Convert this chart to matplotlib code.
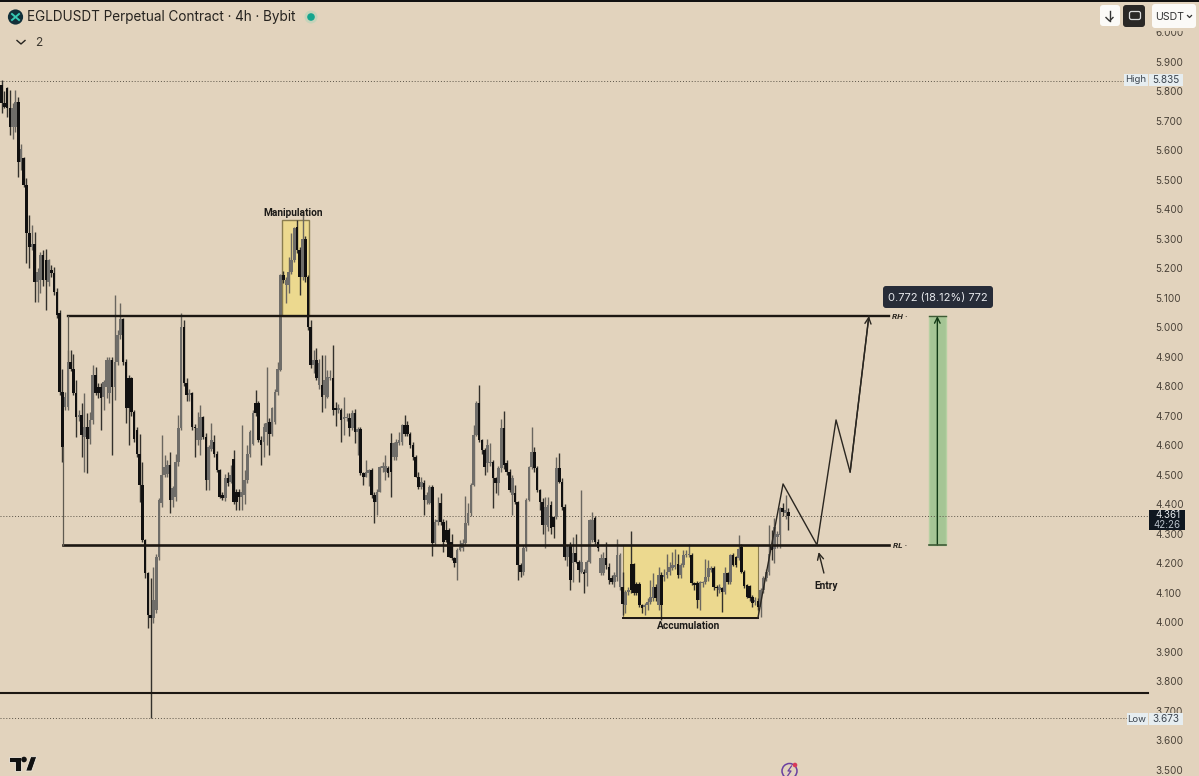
import matplotlib
matplotlib.use("Agg")
import matplotlib.pyplot as plt
from matplotlib.patches import Rectangle, FancyBboxPatch, Circle, Polygon
import numpy as np

# candle data, ten candles per row
candle_dir = ("DDDDUUDUDD" "DUDUUDDUDD" "DDDUUDDDUD" "UDUUDDDUUU" "DUUUDDDDDD"
              "DDDDDUUUUU" "UDUUUUDDUD" "DUUDDUUDDD" "DUDUDDDUUU" "UUDDDUUDUU"
              "UUDUUUUDDU" "DDDUDUDUUU" "DDUDUUDUDU" "DDUUDDUUUU" "DDUUUUDDDD"
              "DDUDUUDUUD" "DDDDDUUUUU" "UUUDDDUUDD" "UUDDDUDDDU" "UUUDDDDUUD"
              "DUDDDUDUDD" "UDUUUDDUUD" "DDUUUDUUDD" "DDDUUUUDUD" "UUUUUDUUUU"
              "DDDUUUUUDD" "UDUDUDDUDD" "DDDUDUUUUD" "UUUDUD")

body_top = [
    5.820, 5.758, 5.809, 5.741, 5.741, 5.764, 5.764, 5.605, 5.572, 5.481,
    5.317, 5.283, 5.283, 5.187, 5.244, 5.244, 5.227, 5.227, 5.193, 5.182,
    5.120, 5.046, 4.780, 4.763, 4.882, 4.882, 4.859, 4.775, 4.701, 4.701,
    4.662, 4.662, 4.684, 4.837, 4.837, 4.797, 4.797, 4.814, 4.888, 4.888,
    4.888, 4.882, 4.972, 5.026, 5.026, 4.882, 4.826, 4.826, 4.713, 4.650,
    4.571, 4.464, 4.277, 4.165, 4.023, 4.074, 4.221, 4.413, 4.498, 4.526,
    4.532, 4.532, 4.453, 4.543, 4.656, 5.001, 5.001, 4.809, 4.777, 4.777,
    4.662, 4.656, 4.696, 4.696, 4.628, 4.594, 4.616, 4.611, 4.571, 4.515,
    4.430, 4.487, 4.487, 4.498, 4.552, 4.441, 4.441, 4.441, 4.481, 4.571,
    4.645, 4.707, 4.741, 4.741, 4.617, 4.662, 4.673, 4.679, 4.724, 4.780,
    4.856, 5.176, 5.176, 5.159, 5.187, 5.227, 5.334, 5.340, 5.261, 5.300,
    5.300, 5.168, 5.001, 4.888, 4.888, 4.877, 4.803, 4.820, 4.832, 4.832,
    4.826, 4.724, 4.724, 4.719, 4.696, 4.696, 4.690, 4.707, 4.707, 4.653,
    4.653, 4.504, 4.510, 4.515, 4.515, 4.430, 4.442, 4.526, 4.529, 4.529,
    4.521, 4.606, 4.606, 4.611, 4.617, 4.668, 4.668, 4.668, 4.639, 4.600,
    4.560, 4.493, 4.476, 4.470, 4.430, 4.459, 4.459, 4.340, 4.346, 4.402,
    4.340, 4.312, 4.312, 4.272, 4.216, 4.244, 4.255, 4.267, 4.334, 4.368,
    4.464, 4.634, 4.741, 4.741, 4.617, 4.583, 4.600, 4.543, 4.543, 4.487,
    4.521, 4.656, 4.656, 4.538, 4.510, 4.487, 4.436, 4.408, 4.193, 4.250,
    4.414, 4.526, 4.577, 4.577, 4.521, 4.447, 4.408, 4.391, 4.397, 4.397,
    4.357, 4.521, 4.521, 4.476, 4.391, 4.255, 4.261, 4.233, 4.233, 4.204,
    4.204, 4.170, 4.204, 4.346, 4.346, 4.351, 4.272, 4.216, 4.216, 4.216,
    4.187, 4.148, 4.159, 4.227, 4.227, 4.119, 4.103, 4.110, 4.196, 4.196,
    4.129, 4.129, 4.057, 4.057, 4.069, 4.086, 4.117, 4.117, 4.159, 4.161,
    4.159, 4.170, 4.187, 4.193, 4.193, 4.196, 4.193, 4.227, 4.232, 4.232,
    4.227, 4.131, 4.133, 4.136, 4.136, 4.151, 4.182, 4.182, 4.182, 4.119,
    4.119, 4.114, 4.165, 4.165, 4.227, 4.227, 4.219, 4.249, 4.253, 4.170,
    4.125, 4.122, 4.086, 4.074, 4.072, 4.108, 4.148, 4.170, 4.232, 4.261,
    4.323, 4.300, 4.385, 4.387, 4.379, 4.374,
]
body_bottom = [
    5.758, 5.747, 5.741, 5.679, 5.679, 5.679, 5.560, 5.560, 5.481, 5.317,
    5.272, 5.272, 5.153, 5.153, 5.159, 5.159, 5.159, 5.153, 5.182, 5.120,
    5.040, 4.780, 4.594, 4.730, 4.730, 4.859, 4.775, 4.696, 4.696, 4.633,
    4.628, 4.622, 4.622, 4.684, 4.775, 4.775, 4.758, 4.763, 4.797, 4.775,
    4.797, 4.797, 4.882, 4.972, 4.882, 4.724, 4.724, 4.713, 4.622, 4.571,
    4.464, 4.277, 4.165, 4.023, 4.012, 4.012, 4.040, 4.221, 4.402, 4.498,
    4.503, 4.413, 4.413, 4.424, 4.543, 4.656, 4.809, 4.769, 4.769, 4.662,
    4.656, 4.616, 4.616, 4.628, 4.481, 4.481, 4.588, 4.571, 4.515, 4.424,
    4.419, 4.419, 4.470, 4.475, 4.407, 4.407, 4.424, 4.424, 4.430, 4.481,
    4.571, 4.605, 4.707, 4.617, 4.600, 4.611, 4.645, 4.639, 4.639, 4.679,
    4.780, 4.854, 5.159, 5.142, 5.142, 5.187, 5.227, 5.261, 5.168, 5.170,
    5.170, 5.001, 4.871, 4.871, 4.826, 4.803, 4.764, 4.769, 4.764, 4.826,
    4.719, 4.719, 4.719, 4.685, 4.687, 4.690, 4.656, 4.656, 4.645, 4.645,
    4.504, 4.493, 4.493, 4.504, 4.430, 4.408, 4.408, 4.442, 4.521, 4.510,
    4.504, 4.510, 4.560, 4.560, 4.606, 4.611, 4.639, 4.639, 4.600, 4.560,
    4.493, 4.459, 4.459, 4.413, 4.413, 4.402, 4.267, 4.267, 4.340, 4.340,
    4.272, 4.278, 4.221, 4.216, 4.199, 4.199, 4.244, 4.250, 4.267, 4.334,
    4.368, 4.464, 4.634, 4.617, 4.583, 4.526, 4.538, 4.538, 4.487, 4.470,
    4.470, 4.521, 4.532, 4.510, 4.447, 4.430, 4.408, 4.193, 4.170, 4.170,
    4.250, 4.414, 4.526, 4.521, 4.447, 4.408, 4.329, 4.329, 4.323, 4.317,
    4.323, 4.357, 4.476, 4.391, 4.221, 4.221, 4.142, 4.199, 4.204, 4.176,
    4.170, 4.163, 4.165, 4.204, 4.278, 4.272, 4.250, 4.165, 4.165, 4.193,
    4.142, 4.136, 4.136, 4.153, 4.119, 4.060, 4.057, 4.103, 4.110, 4.099,
    4.097, 4.057, 4.046, 4.052, 4.057, 4.069, 4.080, 4.080, 4.057, 4.057,
    4.153, 4.159, 4.170, 4.182, 4.187, 4.159, 4.159, 4.193, 4.226, 4.227,
    4.131, 4.125, 4.074, 4.074, 4.131, 4.136, 4.151, 4.176, 4.117, 4.114,
    4.108, 4.103, 4.103, 4.136, 4.136, 4.193, 4.193, 4.216, 4.170, 4.122,
    4.086, 4.080, 4.063, 4.069, 4.052, 4.052, 4.108, 4.148, 4.170, 4.244,
    4.249, 4.289, 4.295, 4.374, 4.368, 4.361,
]
wick_high = [
    5.837, 5.800, 5.812, 5.803, 5.760, 5.803, 5.780, 5.620, 5.575, 5.504,
    5.379, 5.345, 5.323, 5.200, 5.255, 5.260, 5.266, 5.230, 5.210, 5.204,
    5.131, 5.057, 4.859, 4.780, 4.922, 4.922, 4.910, 4.820, 4.720, 4.741,
    4.775, 4.707, 4.713, 4.871, 4.865, 4.810, 4.809, 4.820, 4.900, 4.900,
    4.900, 5.108, 4.989, 5.080, 5.030, 4.890, 4.837, 4.830, 4.720, 4.660,
    4.639, 4.543, 4.280, 4.170, 4.148, 4.187, 4.230, 4.420, 4.633, 4.566,
    4.550, 4.577, 4.460, 4.571, 4.701, 5.048, 5.023, 4.826, 4.790, 4.780,
    4.670, 4.713, 4.735, 4.700, 4.640, 4.600, 4.673, 4.633, 4.580, 4.520,
    4.440, 4.503, 4.510, 4.532, 4.583, 4.450, 4.450, 4.667, 4.515, 4.600,
    4.650, 4.720, 4.786, 4.750, 4.630, 4.673, 4.865, 4.690, 4.730, 4.790,
    4.882, 5.180, 5.190, 5.170, 5.238, 5.317, 5.340, 5.362, 5.270, 5.385,
    5.310, 5.175, 5.024, 4.922, 4.928, 4.890, 4.905, 4.905, 4.854, 4.854,
    4.939, 4.747, 4.740, 4.725, 4.764, 4.710, 4.707, 4.719, 4.721, 4.660,
    4.660, 4.510, 4.549, 4.520, 4.521, 4.440, 4.450, 4.530, 4.543, 4.566,
    4.530, 4.642, 4.610, 4.620, 4.645, 4.670, 4.702, 4.680, 4.645, 4.611,
    4.565, 4.510, 4.490, 4.480, 4.440, 4.465, 4.465, 4.350, 4.425, 4.438,
    4.350, 4.346, 4.320, 4.300, 4.220, 4.250, 4.278, 4.280, 4.427, 4.402,
    4.470, 4.668, 4.750, 4.803, 4.620, 4.590, 4.620, 4.606, 4.550, 4.490,
    4.530, 4.687, 4.715, 4.550, 4.520, 4.500, 4.464, 4.410, 4.200, 4.260,
    4.420, 4.530, 4.662, 4.594, 4.530, 4.450, 4.420, 4.425, 4.425, 4.410,
    4.360, 4.560, 4.574, 4.487, 4.400, 4.260, 4.270, 4.289, 4.300, 4.210,
    4.447, 4.180, 4.210, 4.350, 4.374, 4.360, 4.280, 4.230, 4.238, 4.272,
    4.200, 4.160, 4.170, 4.280, 4.235, 4.170, 4.110, 4.120, 4.308, 4.200,
    4.135, 4.135, 4.060, 4.065, 4.080, 4.142, 4.165, 4.130, 4.187, 4.170,
    4.180, 4.232, 4.204, 4.238, 4.249, 4.232, 4.200, 4.244, 4.245, 4.266,
    4.235, 4.135, 4.140, 4.140, 4.140, 4.215, 4.210, 4.190, 4.190, 4.125,
    4.130, 4.120, 4.187, 4.170, 4.230, 4.235, 4.225, 4.295, 4.266, 4.175,
    4.130, 4.125, 4.090, 4.085, 4.080, 4.115, 4.155, 4.180, 4.329, 4.312,
    4.351, 4.310, 4.390, 4.402, 4.430, 4.385,
]
wick_low = [
    5.724, 5.741, 5.713, 5.651, 5.639, 5.660, 5.509, 5.532, 5.475, 5.216,
    5.199, 5.260, 5.086, 5.086, 5.114, 5.140, 5.057, 5.140, 5.170, 5.110,
    5.030, 4.770, 4.543, 4.720, 4.720, 4.850, 4.770, 4.628, 4.680, 4.560,
    4.509, 4.506, 4.605, 4.670, 4.770, 4.760, 4.650, 4.718, 4.760, 4.741,
    4.566, 4.752, 4.870, 4.960, 4.870, 4.673, 4.600, 4.700, 4.610, 4.560,
    4.407, 4.270, 4.150, 3.978, 3.673, 3.995, 4.030, 4.210, 4.390, 4.490,
    4.490, 4.370, 4.390, 4.410, 4.530, 4.650, 4.800, 4.750, 4.750, 4.650,
    4.560, 4.600, 4.566, 4.620, 4.447, 4.447, 4.580, 4.560, 4.510, 4.420,
    4.413, 4.410, 4.460, 4.470, 4.400, 4.379, 4.379, 4.379, 4.400, 4.470,
    4.560, 4.600, 4.700, 4.610, 4.532, 4.560, 4.600, 4.566, 4.630, 4.670,
    4.770, 4.850, 5.150, 5.080, 5.114, 5.180, 5.220, 5.250, 5.108, 5.160,
    5.153, 4.990, 4.860, 4.843, 4.820, 4.790, 4.713, 4.724, 4.760, 4.820,
    4.702, 4.664, 4.710, 4.611, 4.634, 4.680, 4.630, 4.650, 4.606, 4.566,
    4.500, 4.464, 4.490, 4.460, 4.420, 4.337, 4.363, 4.440, 4.510, 4.481,
    4.490, 4.425, 4.550, 4.550, 4.600, 4.600, 4.630, 4.630, 4.590, 4.550,
    4.490, 4.450, 4.450, 4.363, 4.400, 4.400, 4.224, 4.260, 4.330, 4.330,
    4.238, 4.270, 4.220, 4.210, 4.187, 4.142, 4.240, 4.240, 4.260, 4.330,
    4.360, 4.460, 4.630, 4.610, 4.570, 4.500, 4.510, 4.530, 4.385, 4.436,
    4.430, 4.510, 4.520, 4.500, 4.440, 4.363, 4.400, 4.142, 4.153, 4.160,
    4.240, 4.410, 4.520, 4.510, 4.440, 4.380, 4.300, 4.250, 4.310, 4.300,
    4.284, 4.350, 4.470, 4.380, 4.210, 4.190, 4.108, 4.137, 4.200, 4.137,
    4.165, 4.099, 4.122, 4.200, 4.270, 4.265, 4.240, 4.160, 4.160, 4.180,
    4.130, 4.130, 4.120, 4.140, 4.110, 4.023, 4.029, 4.090, 4.100, 4.090,
    4.090, 4.050, 4.029, 4.023, 4.040, 4.060, 4.070, 4.070, 4.040, 4.007,
    4.140, 4.150, 4.160, 4.175, 4.180, 4.150, 4.150, 4.185, 4.220, 4.220,
    4.125, 4.110, 4.046, 4.040, 4.120, 4.130, 4.140, 4.170, 4.110, 4.088,
    4.100, 4.035, 4.095, 4.130, 4.130, 4.190, 4.185, 4.210, 4.165, 4.115,
    4.080, 4.070, 4.050, 4.057, 4.040, 4.018, 4.100, 4.140, 4.160, 4.210,
    4.200, 4.250, 4.250, 4.360, 4.350, 4.312,
]

price_ticks = [3.5, 3.6, 3.7, 3.8, 3.9, 4.0, 4.1, 4.2, 4.3, 4.4, 4.5, 4.6, 4.7,
               4.8, 4.9, 5.0, 5.1, 5.2, 5.3, 5.4, 5.5, 5.6, 5.7, 5.8, 5.9, 6.0]

range_high = 5.037
range_low = 4.261
support_level = 3.759
high_price = 5.835
low_price = 3.673
last_price = 4.361

# projected move drawn on the chart (candle index, price)
path_x = [274.0, 283.1, 295.4, 302.3, 307.4, 314.2]
path_price = [4.014, 4.468, 4.261, 4.685, 4.508, 5.037]

BG = "#e2d3bd"
INK = "#4a4238"
YELLOW = "#ecd98f"

plt.rcParams["font.family"] = ["Inter", "Roboto", "DejaVu Sans"]

fig = plt.figure(figsize=(11.99, 7.76), dpi=100, facecolor=BG)
ax = fig.add_axes([0, 0, 1, 1], facecolor=BG)
ax.set_xlim(-0.6, 433.8)
ax.set_ylim(3.478, 6.1085)
for s in ax.spines.values():
    s.set_visible(False)
ax.set_xticks([])
ax.yaxis.tick_right()
ax.set_yticks(price_ticks)
ax.set_yticklabels(["%.3f" % p for p in price_ticks])
ax.tick_params(axis="y", length=0, pad=-31.5, labelsize=7.2, labelcolor=INK)

right_end = 415.5

# shaded boxes under the candles
ax.add_patch(Rectangle((101.4, range_high), 10.0, 5.363 - range_high, fc=YELLOW,
                       ec="#8a7d50", lw=1.0, zorder=1))
ax.add_patch(Rectangle((225.1, 4.014), 48.9, range_low - 4.014, fc=YELLOW,
                       ec="#8a7d50", lw=0.8, zorder=1))
ax.add_patch(Rectangle((336.0, range_low), 6.2, range_high - range_low, fc="#a5c595",
                       ec="#b5d0a2", lw=1.0, zorder=1))

# candles
x = np.arange(len(candle_dir))
top = np.array(body_top)
bot = np.array(body_bottom)
is_up = np.array([d == "U" for d in candle_dir])
wick_cols = ["#6a665f" if u else "#34312c" for u in is_up]
ax.vlines(x, wick_low, wick_high, colors=wick_cols, lw=1.0, zorder=3)
ax.bar(x[is_up], top[is_up] - bot[is_up], bottom=bot[is_up], width=0.95,
       color="#6f6d69", zorder=4)
ax.bar(x[~is_up], top[~is_up] - bot[~is_up], bottom=bot[~is_up], width=0.95,
       color="#111010", zorder=5)

# dotted price lines
for p in [high_price, low_price, last_price]:
    ax.plot([-0.6, right_end], [p, p], color="#5b5448", lw=0.7, ls=(0, (1, 2)), zorder=2)

# range lines
ax.plot([24.0, 321.6], [range_high, range_high], color="#1c1712", lw=1.7, zorder=6)
ax.plot([22.2, 321.6], [range_low, range_low], color="#1c1712", lw=1.9, zorder=6)
ax.plot([-0.6, right_end], [support_level, support_level], color="#1c1712", lw=1.5, zorder=6)
ax.plot([24.0, 24.0], [range_high, 4.885], color="#5f5a50", lw=0.9, zorder=6)
ax.plot([22.2, 22.2], [4.594, range_low], color="#5f5a50", lw=0.9, zorder=6)
ax.plot([225.1, 274.0], [4.014, 4.014], color="#1c1712", lw=1.4, zorder=6)

# projection
ax.plot(path_x, path_price, color="#2a2620", lw=1.0, zorder=7)
ax.annotate("", xy=(path_x[-1], path_price[-1]), xytext=(path_x[-2], path_price[-2]),
            arrowprops=dict(arrowstyle="->", color="#2a2620", lw=1.0, shrinkA=0, shrinkB=0,
                            mutation_scale=11), zorder=7)
ax.annotate("", xy=(296.0, 4.237), xytext=(297.9, 4.166),
            arrowprops=dict(arrowstyle="->", color="#2a2620", lw=1.0, shrinkA=0, shrinkB=0,
                            mutation_scale=11), zorder=7)
ax.annotate("", xy=(339.0, range_high), xytext=(339.0, range_low),
            arrowprops=dict(arrowstyle="->", color="#123a16", lw=1.0, shrinkA=0, shrinkB=0,
                            mutation_scale=10), zorder=7)
ax.plot([336.0, 342.2], [range_high, range_high], color="#3e5a35", lw=1.0, zorder=7)
ax.plot([336.0, 342.2], [range_low, range_low], color="#3e5a35", lw=1.2, zorder=7)

# labels on the chart
lab = dict(family="Roboto", fontweight="bold", color="#1c1a18", ha="center", va="center",
           fontsize=7.3, zorder=8)
ax.text(105.6, 5.386, "Manipulation", **lab)
ax.text(249.0, 3.987, "Accumulation", **lab)
ax.text(298.8, 4.122, "Entry", **lab)
ax.text(325.5, range_high, "RH ·", family="Roboto", fontweight="bold", style="italic",
        color="#2a2620", ha="center", va="center", fontsize=6.0, zorder=8)
ax.text(325.5, range_low, "RL ·", family="Roboto", fontweight="bold", style="italic",
        color="#2a2620", ha="center", va="center", fontsize=6.0, zorder=8)

# screen furniture, in pixels
ui = fig.add_axes([0, 0, 1, 1], facecolor="none")
ui.set_xlim(0, 1199)
ui.set_ylim(776, 0)
ui.axis("off")

ui.add_patch(Rectangle((0, 0), 1199, 2, fc="#111111", ec="none"))
ui.add_patch(Circle((15.5, 17), 7.6, fc="#12303a", ec="none"))
ui.plot([12, 19], [14, 20], color="#37c9b4", lw=1.4)
ui.plot([12, 19], [20, 14], color="#37c9b4", lw=1.4)
ui.text(27, 17, "EGLDUSDT Perpetual Contract · 4h · Bybit", fontsize=9.75, color="#26231f",
        va="center", ha="left")
ui.add_patch(Circle((311, 17), 6.5, fc="#c6d3ba", ec="none"))
ui.add_patch(Circle((311, 17), 3.8, fc="#14a58e", ec="none"))
ui.plot([17, 21, 25], [40.5, 44, 40.5], color="#26231f", lw=1.0)
ui.text(39, 42.5, "2", fontsize=8.6, color="#3c372f", ha="center", va="center")

# top right buttons; the strip under them cuts off the top tick label
ui.add_patch(Rectangle((1148, 20), 51, 10.5, fc=BG, ec="none"))
ui.add_patch(FancyBboxPatch((1102, 7), 16, 17, boxstyle="round,pad=2,rounding_size=3",
                            fc="#fbfaf7", ec="none"))
ui.plot([1109.5, 1109.5], [11, 21], color="#333333", lw=1.0)
ui.plot([1106, 1109.5, 1113], [17.5, 21, 17.5], color="#333333", lw=1.0)
ui.add_patch(FancyBboxPatch((1125, 7), 18, 18, boxstyle="round,pad=2,rounding_size=3",
                            fc="#2a2826", ec="none"))
ui.add_patch(FancyBboxPatch((1130, 12), 10, 7, boxstyle="round,pad=0.5,rounding_size=2",
                            fc="none", ec="#dcdcdc", lw=0.9))
ui.add_patch(FancyBboxPatch((1154, 6), 40, 20, boxstyle="round,pad=2,rounding_size=3",
                            fc="#fbfaf7", ec="none"))
ui.text(1155.5, 16.5, "USDT", fontsize=7.6, color="#333333", va="center", ha="left")
ui.plot([1187.5, 1189.5, 1191.5], [15.5, 17.5, 15.5], color="#333333", lw=0.9)

# High / Low / last price tags
ui.add_patch(Rectangle((1124, 74), 24, 12, fc="#e6edf0", ec="none"))
ui.add_patch(Rectangle((1149, 74), 34, 12, fc="#e6edf0", ec="none"))
ui.text(1135.5, 80, "High", fontsize=6.9, color="#3d4650", ha="center", va="center")
ui.text(1166, 80, "5.835", fontsize=7.2, color="#3d4650", ha="center", va="center")
ui.add_patch(Rectangle((1127, 713), 21, 12, fc="#e6edf0", ec="none"))
ui.add_patch(Rectangle((1149, 713), 34, 12, fc="#e6edf0", ec="none"))
ui.text(1137, 719, "Low", fontsize=6.9, color="#3d4650", ha="center", va="center")
ui.text(1166, 719, "3.673", fontsize=7.2, color="#3d4650", ha="center", va="center")
ui.add_patch(Rectangle((1149, 510), 36, 20, fc="#0f1720", ec="none"))
ui.text(1167.5, 515.5, "4.361", fontsize=7.0, color="#e8ecef", ha="center", va="center")
ui.text(1167.5, 525, "42:26", fontsize=7.0, color="#b8c0c8", ha="center", va="center")

# measure tooltip
ui.add_patch(FancyBboxPatch((885, 288), 106, 18, boxstyle="round,pad=2,rounding_size=3",
                            fc="#272c38", ec="none"))
ui.text(938, 297.5, "0.772 (18.12%) 772", fontsize=8.0, color="#e6e8ec", ha="center", va="center")

# tradingview mark
tv = dict(fc="#111111", ec="#f3ece0", lw=0.6)
ui.add_patch(Polygon([(9.3, 756.7), (20.7, 756.7), (20.7, 771), (15, 771), (15, 762), (9.3, 762)], **tv))
ui.add_patch(Circle((24, 759.5), 2.8, fc="#111111", ec="none"))
ui.add_patch(Polygon([(36.7, 756.7), (31.7, 771), (25.7, 771), (30.7, 756.7)], **tv))

# bolt badge at the bottom edge
ui.add_patch(Circle((789.5, 771), 7.5, fc="none", ec="#6a3fa0", lw=1.1))
ui.plot([791.5, 788, 791, 787.5], [766, 771, 771, 776], color="#6a3fa0", lw=0.9)
ui.add_patch(Circle((795, 765), 2.3, fc="#d83a5a", ec="none"))

fig.savefig("out.png", dpi=100, facecolor=BG)
